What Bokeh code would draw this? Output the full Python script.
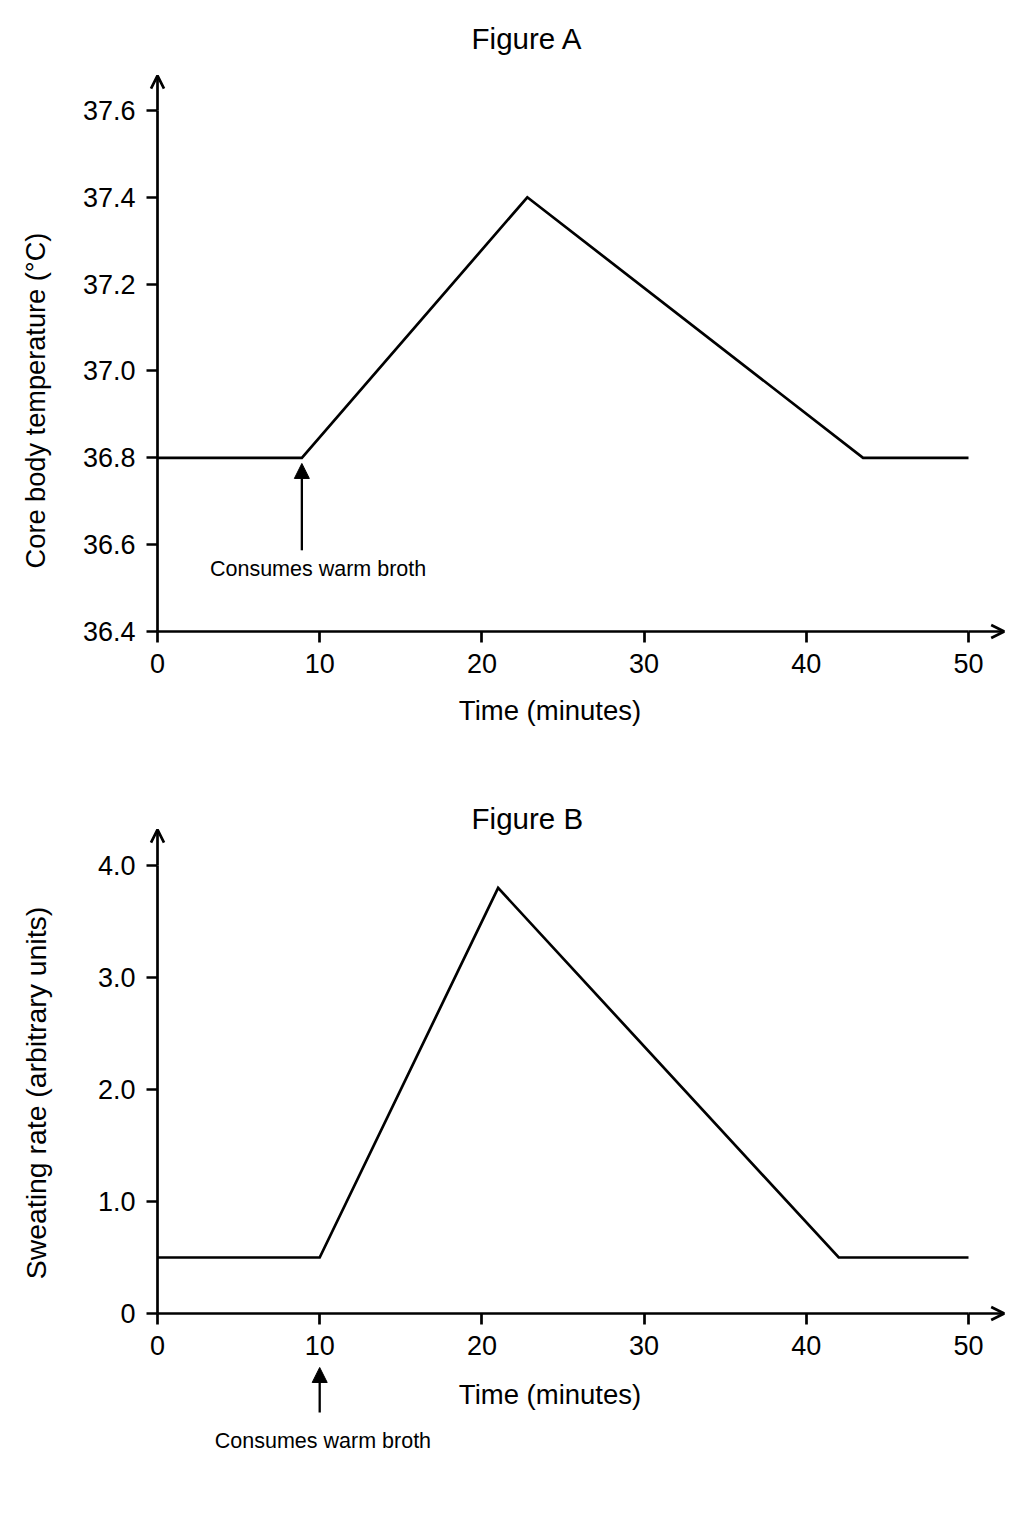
import math
from bokeh.plotting import figure
from bokeh.models import (Range1d, Arrow, OpenHead, NormalHead, Label,
                          FixedTicker, CustomJSTickFormatter)
from bokeh.layouts import column
from bokeh.embed import file_html
from bokeh.resources import INLINE

# ---------------- data ----------------
TIME_A = [0, 8.9, 22.8, 43.5, 50]
TEMP_A = [36.8, 36.8, 37.4, 36.8, 36.8]

TIME_B = [0, 10, 21, 42, 50]
SWEAT_B = [0.5, 0.5, 3.8, 0.5, 0.5]

X_TICKS = [0, 10, 20, 30, 40, 50]
X_TICK_LABELS = ["0", "10", "20", "30", "40", "50"]
Y_TICKS_A = [36.4, 36.6, 36.8, 37.0, 37.2, 37.4, 37.6]
Y_TICK_LABELS_A = ["36.4", "36.6", "36.8", "37.0", "37.2", "37.4", "37.6"]
Y_TICKS_B = [0, 1, 2, 3, 4]
Y_TICK_LABELS_B = ["0", "1.0", "2.0", "3.0", "4.0"]

EVENT_TIME_A = 8.9
EVENT_TIME_B = 10
EVENT_TEXT = "Consumes warm broth"

FONT = "Liberation Sans"
INK = "#000000"

# ---------------- geometry (pixels) ----------------
W = 1016
X0_PX = 157.0          # pixel of time 0
X_SCALE = 16.22        # px per minute
HA = 745               # height of figure A
A_Y0_PX = 631.0        # pixel of 36.4 inside figure A
A_SCALE = 434.2        # px per degree
HB = 735               # height of figure B
B_Y0_PX = 568.0        # pixel of 0 inside figure B
B_SCALE = 112.0        # px per unit

x_range = (-X0_PX / X_SCALE, (W - X0_PX) / X_SCALE)
yA_range = (36.4 - (HA - A_Y0_PX) / A_SCALE, 36.4 + A_Y0_PX / A_SCALE)
yB_range = (0 - (HB - B_Y0_PX) / B_SCALE, 0 + B_Y0_PX / B_SCALE)


def fmt(vals, labs):
    return CustomJSTickFormatter(args=dict(vals=vals, labs=labs), code="""
        for (let i = 0; i < vals.length; i++) {
            if (Math.abs(vals[i] - tick) < 1e-6) return labs[i];
        }
        return "";
    """)


def make_fig(h, yr, xloc, yloc, xt, xl, yt, yl, xb, yb):
    p = figure(width=W, height=h,
               x_range=Range1d(*x_range), y_range=Range1d(*yr),
               output_backend="svg", toolbar_location=None,
               min_border=0, min_border_left=0, min_border_right=0,
               min_border_top=0, min_border_bottom=0)
    p.outline_line_color = None
    p.xgrid.visible = False
    p.ygrid.visible = False
    p.background_fill_color = "white"
    p.border_fill_color = "white"
    p.xaxis.fixed_location = xloc
    p.yaxis.fixed_location = yloc
    p.xaxis.ticker = FixedTicker(ticks=xt)
    p.xaxis.formatter = fmt(xt, xl)
    p.yaxis.ticker = FixedTicker(ticks=yt)
    p.yaxis.formatter = fmt(yt, yl)
    p.xaxis.bounds = xb
    p.yaxis.bounds = yb
    for ax in (p.xaxis[0], p.yaxis[0]):
        ax.axis_line_width = 2.7
        ax.axis_line_color = INK
        ax.major_tick_line_width = 2.7
        ax.major_tick_line_color = INK
        ax.major_tick_out = 11
        ax.major_tick_in = 0
        ax.minor_tick_line_color = None
        ax.major_label_text_font = FONT
        ax.major_label_text_font_size = "27px"
        ax.major_label_text_color = INK
        ax.major_label_standoff = 11
    return p


def add_text(p, x, y, text, size, angle=0.0):
    p.add_layout(Label(x=x, y=y, text=text, text_font=FONT,
                       text_font_size=size, text_color=INK,
                       text_align="center", text_baseline="middle",
                       angle=angle))


def axis_arrow(p, x0, y0, x1, y1):
    p.add_layout(Arrow(end=OpenHead(size=13, line_width=2.7, line_color=INK),
                       x_start=x0, y_start=y0, x_end=x1, y_end=y1,
                       line_width=2.7, line_color=INK))


def event_arrow(p, x, y0, y1):
    p.add_layout(Arrow(end=NormalHead(size=15, fill_color=INK, line_color=INK, line_width=1),
                       x_start=x, y_start=y0, x_end=x, y_end=y1,
                       line_width=2.3, line_color=INK))


# ---------------- Figure A ----------------
pA = make_fig(HA, yA_range, 36.4, 0, X_TICKS, X_TICK_LABELS,
              Y_TICKS_A, Y_TICK_LABELS_A, (0, 50), (36.4, 37.6))
pA.line(TIME_A, TEMP_A, line_width=2.7, line_color=INK, line_join="miter")
axis_arrow(pA, 50, 36.4, 52.2, 36.4)
axis_arrow(pA, 0, 37.6, 0, 37.68)
event_arrow(pA, EVENT_TIME_A, 36.587, 36.787)
add_text(pA, 9.9, 36.545, EVENT_TEXT, "21.5px")
add_text(pA, 22.8, 37.766, "Figure A", "29.5px")
add_text(pA, 24.2, 36.218, "Time (minutes)", "27.5px")
add_text(pA, -7.5, 36.932, "Core body temperature (°C)", "27.2px", math.pi / 2)

# ---------------- Figure B ----------------
pB = make_fig(HB, yB_range, 0, 0, X_TICKS, X_TICK_LABELS,
              Y_TICKS_B, Y_TICK_LABELS_B, (0, 50), (0, 4))
pB.line(TIME_B, SWEAT_B, line_width=2.7, line_color=INK, line_join="miter")
axis_arrow(pB, 50, 0, 52.2, 0)
axis_arrow(pB, 0, 4.0, 0, 4.32)
event_arrow(pB, EVENT_TIME_B, -0.884, -0.482)
add_text(pB, 10.2, -1.134, EVENT_TEXT, "21.5px")
add_text(pB, 22.8, 4.42, "Figure B", "29.5px")
add_text(pB, 24.2, -0.723, "Time (minutes)", "27.5px")
add_text(pB, -7.5, 1.969, "Sweating rate (arbitrary units)", "28.4px", math.pi / 2)

layout = column(pA, pB, spacing=0)
open("out.html", "w").write(file_html(layout, INLINE))
